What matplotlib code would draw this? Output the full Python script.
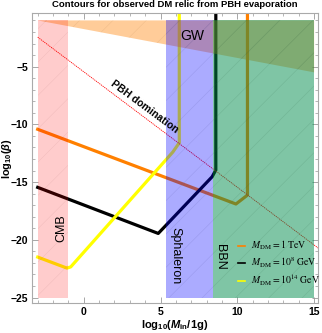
import matplotlib
matplotlib.use("Agg")
import matplotlib.pyplot as plt
from matplotlib.ticker import MultipleLocator
from matplotlib.font_manager import FontProperties

# ---- data ----
orange_x = [-3.0, 9.91, 10.66, 10.66]
orange_y = [-10.43, -16.9, -16.13, 0.5]
black_x = [-3.0, 4.85, 8.36, 8.6, 8.6]
black_y = [-15.46, -19.45, -14.54, -13.96, 0.5]
yellow_x = [-3.0, -1.1, -0.85, 5.8, 6.22, 6.22]
yellow_y = [-21.5, -22.45, -22.35, -12.4, -11.6, 0.5]

pbh_x = [-3.0, 15.5]
pbh_y = [-2.45, -20.95]

gw_x = [-3.0, 15.0]
gw_low = [-1.0, -5.5]
region_top = -1.0
region_bottom = -25.0
cmb_range = [-3.0, -1.0]
sph_range = [5.35, 8.39]
bbn_range = [8.39, 15.0]

legend_labels = [r"$M_{\rm DM}=1\ \rm TeV$", r"$M_{\rm DM}=10^{8}\ \rm GeV$", r"$M_{\rm DM}=10^{14}\ \rm GeV$"]

plt.rcParams['hatch.linewidth'] = 0.4
plt.rcParams['font.family'] = ['Liberation Sans', 'DejaVu Sans']
plt.rcParams['mathtext.fontset'] = 'custom'
plt.rcParams['mathtext.rm'] = 'Liberation Sans:bold'
plt.rcParams['mathtext.bf'] = 'Liberation Sans:bold'
plt.rcParams['mathtext.it'] = 'Liberation Sans:bold:italic'

fig = plt.figure(figsize=(3.22, 3.33), dpi=100)
ax = fig.add_axes([0.0994, 0.0892, 0.888, 0.8703])

lw = 2.3
l1, = ax.plot(orange_x, orange_y, color=(1.0, 0.5, 0.0), lw=lw, zorder=2, solid_joinstyle='round')
l2, = ax.plot(black_x, black_y, color='black', lw=lw, zorder=2, solid_joinstyle='round')
l3, = ax.plot(yellow_x, yellow_y, color=(1.0, 1.0, 0.0), lw=lw, zorder=2, solid_joinstyle='round')

ax.plot(pbh_x, pbh_y, color='red', lw=0.6, ls=(0, (1.5, 1)), zorder=2)

# regions (drawn over curves)
ax.fill_between(gw_x, gw_low, region_top, facecolor=(1.0, 0.5, 0.0, 0.4),
                edgecolor=(0.6, 0.4, 0.2, 0.15), hatch='/', lw=0, zorder=3)
ax.fill_between(cmb_range, region_bottom, region_top, facecolor=(1.0, 0.0, 0.0, 0.2),
                edgecolor=(0.6, 0.3, 0.3, 0.12), hatch='/', lw=0, zorder=3)
ax.fill_between(sph_range, region_bottom, region_top, facecolor=(0.0, 0.0, 1.0, 0.33),
                edgecolor=(0.3, 0.3, 0.6, 0.18), hatch='/', lw=0, zorder=3)
ax.fill_between(bbn_range, region_bottom, region_top, facecolor=(0.0, 0.55, 0.3, 0.5),
                edgecolor=(0.2, 0.4, 0.3, 0.18), hatch='/', lw=0, zorder=3)

# labels
ax.text(-1.45, -19.0, "CMB", rotation=90, ha='center', va='center', fontsize=9, zorder=5)
ax.text(6.0, -21.4, "Sphaleron", rotation=-90, ha='center', va='center', fontsize=9, zorder=5)
ax.text(8.85, -21.45, "BBN", rotation=-90, ha='center', va='center', fontsize=9, zorder=5)
ax.text(7.07, -2.35, "GW", ha='center', va='center', fontsize=10, zorder=5)
ax.text(3.95, -8.45, "PBH domination", rotation=-36.5, ha='center', va='center',
        fontsize=7.5, fontweight='bold', zorder=5, rotation_mode='anchor')

ax.set_xlim(-3.37, 15.25)
ax.set_ylim(-25.5, -0.4)
ax.xaxis.set_major_locator(MultipleLocator(5))
ax.xaxis.set_minor_locator(MultipleLocator(1))
ax.yaxis.set_major_locator(MultipleLocator(5))
ax.yaxis.set_minor_locator(MultipleLocator(1))
ax.tick_params(which='both', direction='in', top=True, right=True, color='#999999',
               labelsize=7.5)
ax.tick_params(which='major', length=4, width=0.6, pad=2.5)
ax.tick_params(which='minor', length=2, width=0.5)
for lab in ax.get_xticklabels() + ax.get_yticklabels():
    lab.set_fontweight('bold')
for s in ax.spines.values():
    s.set_color('#aaaaaa')
    s.set_linewidth(0.8)

ax.set_xlabel(r"log$_{10}$($\mathit{M}_{\rm in}$/1g)", fontsize=8, fontweight='bold', labelpad=1)
ax.set_ylabel(r"log$_{10}$($\beta$)", fontsize=7.8, fontweight='bold')
ax.yaxis.set_label_coords(-0.062, 0.5)
ax.set_title("Contours for observed DM relic from PBH evaporation", fontsize=6.8,
             fontweight='bold', pad=4.5)

fp = FontProperties(family='Liberation Serif', size=7, weight='bold', math_fontfamily='stix')
leg = ax.legend([l1, l2, l3], legend_labels, loc='upper left', bbox_to_anchor=(0.72, 0.222),
                frameon=False, prop=fp, handlelength=0.7, handletextpad=0.6,
                labelspacing=0.3, borderaxespad=0.0, borderpad=0.0)
for h in leg.get_lines():
    h.set_linewidth(1.2)
leg.set_zorder(6)

fig.savefig("out.png", dpi=100)
